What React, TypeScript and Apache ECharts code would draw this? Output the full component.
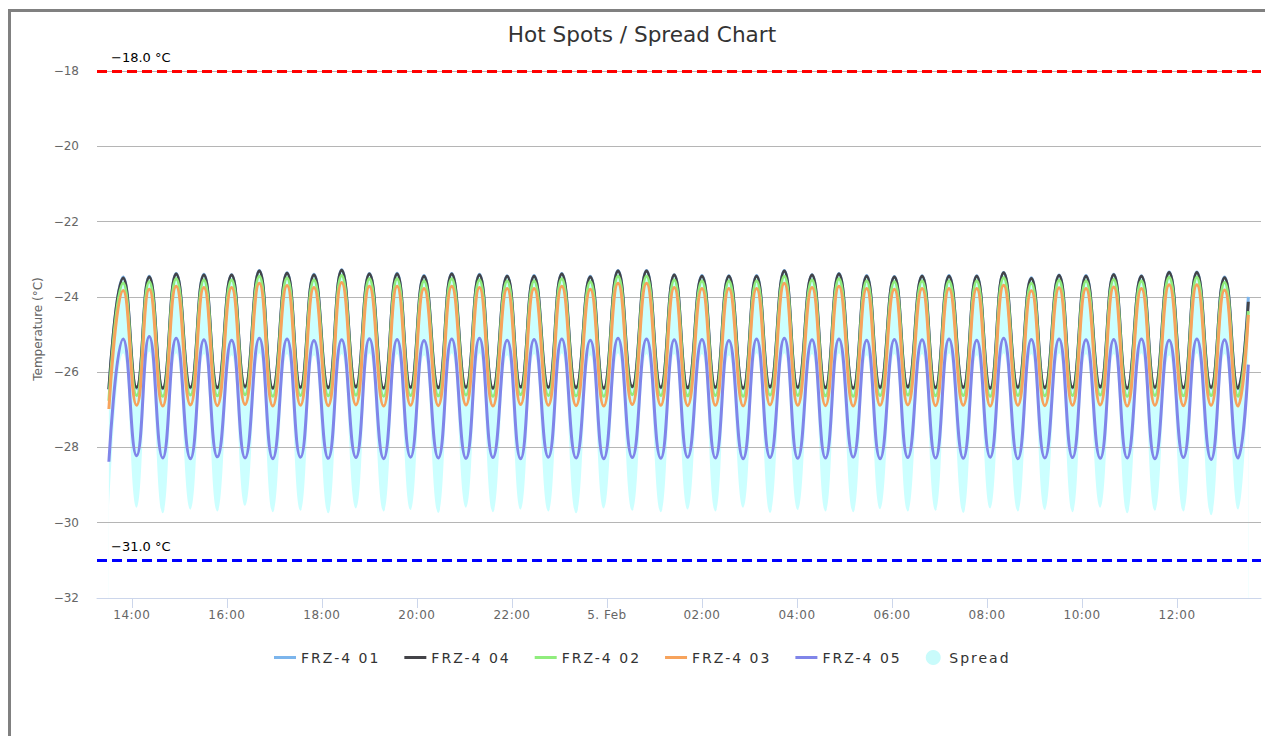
import React, { useEffect, useRef } from "react";
import * as echarts from "echarts";

const TITLE = "Hot Spots / Spread Chart";
const Y_TITLE = "Temperature (°C)";
const DAY1 = "2024-02-04";
const DAY2 = "2024-02-05";
const MONTHS = ["Jan", "Feb", "Mar", "Apr", "May", "Jun", "Jul", "Aug", "Sep", "Oct", "Nov", "Dec"];

// alternating trough / peak times (day rolls over at midnight)
const TIMES = [
  "13:31", "13:49", "14:06", "14:22", "14:39", "14:56", "15:14", "15:31", "15:48", "16:06",
  "16:23", "16:41", "16:58", "17:16", "17:33", "17:50", "18:08", "18:25", "18:43", "19:00",
  "19:18", "19:35", "19:52", "20:09", "20:27", "20:44", "21:02", "21:19", "21:36", "21:54",
  "22:11", "22:28", "22:46", "23:03", "23:21", "23:39", "23:56", "00:14", "00:32", "00:50",
  "01:08", "01:25", "01:42", "02:00", "02:17", "02:34", "02:52", "03:09", "03:26", "03:44",
  "04:01", "04:19", "04:36", "04:53", "05:11", "05:28", "05:45", "06:03", "06:20", "06:38",
  "06:55", "07:12", "07:30", "07:47", "08:04", "08:21", "08:39", "08:56", "09:13", "09:31",
  "09:48", "10:05", "10:23", "10:40", "10:57", "11:15", "11:32", "11:50", "12:08", "12:25",
  "12:43", "13:00", "13:17", "13:30",
];

const X_MIN = "2024-02-04T13:16";
const X_MAX = "2024-02-05T13:46";
const X_TICKS = [
  "2024-02-04T14:00", "2024-02-04T16:00", "2024-02-04T18:00", "2024-02-04T20:00",
  "2024-02-04T22:00", "2024-02-05T00:00", "2024-02-05T02:00", "2024-02-05T04:00",
  "2024-02-05T06:00", "2024-02-05T08:00", "2024-02-05T10:00", "2024-02-05T12:00",
];
const Y_MIN = -32;
const Y_MAX = -18;
const Y_STEP = 2;
const UPPER_LIMIT = -18.0;
const LOWER_LIMIT = -31.0;

const NAMES = ["FRZ-4 01", "FRZ-4 04", "FRZ-4 02", "FRZ-4 03", "FRZ-4 05"];
const COLORS = ["#7cb5ec", "#434348", "#90ed7d", "#f7a35c", "#8085e9"];
const SPREAD_NAME = "Spread";

// FRZ-4 01
const TROUGHS_01 = [-26.47, -26.43, -26.44, -26.42, -26.43, -26.41, -26.44, -26.42, -26.43, -26.41, -26.44, -26.42, -26.43, -26.42, -26.44, -26.41, -26.42, -26.43, -26.44, -26.40, -26.42, -26.43, -26.42, -26.44, -26.41, -26.42, -26.43, -26.44, -26.42, -26.41, -26.43, -26.42, -26.44, -26.42, -26.43, -26.42, -26.41, -26.44, -26.42, -26.43, -26.42, -26.44];
const PEAKS_01 = [-23.47, -23.45, -23.38, -23.40, -23.41, -23.30, -23.36, -23.40, -23.28, -23.38, -23.37, -23.43, -23.38, -23.40, -23.44, -23.43, -23.38, -23.45, -23.30, -23.30, -23.41, -23.43, -23.44, -23.43, -23.30, -23.41, -23.38, -23.43, -23.46, -23.44, -23.43, -23.44, -23.35, -23.49, -23.42, -23.43, -23.40, -23.44, -23.34, -23.34, -23.47];
const END_01 = -24.0;
// FRZ-4 04
const TROUGHS_04 = [-26.45, -26.40, -26.42, -26.40, -26.41, -26.38, -26.42, -26.40, -26.41, -26.39, -26.42, -26.40, -26.41, -26.40, -26.42, -26.39, -26.40, -26.41, -26.42, -26.38, -26.40, -26.41, -26.40, -26.42, -26.39, -26.40, -26.41, -26.42, -26.40, -26.39, -26.41, -26.40, -26.42, -26.40, -26.41, -26.40, -26.39, -26.42, -26.40, -26.41, -26.40, -26.42];
const PEAKS_04 = [-23.50, -23.47, -23.39, -23.42, -23.42, -23.31, -23.37, -23.42, -23.29, -23.39, -23.39, -23.45, -23.39, -23.42, -23.45, -23.45, -23.39, -23.47, -23.31, -23.31, -23.42, -23.45, -23.45, -23.45, -23.31, -23.42, -23.39, -23.45, -23.47, -23.45, -23.45, -23.45, -23.36, -23.51, -23.43, -23.45, -23.41, -23.45, -23.35, -23.35, -23.49];
const END_04 = -24.13;
// FRZ-4 02
const TROUGHS_02 = [-26.76, -26.62, -26.64, -26.61, -26.63, -26.60, -26.64, -26.62, -26.63, -26.61, -26.64, -26.62, -26.63, -26.61, -26.64, -26.60, -26.62, -26.63, -26.64, -26.60, -26.62, -26.63, -26.62, -26.64, -26.61, -26.62, -26.63, -26.64, -26.62, -26.61, -26.63, -26.62, -26.64, -26.62, -26.63, -26.62, -26.61, -26.64, -26.62, -26.63, -26.62, -26.64];
const PEAKS_02 = [-23.63, -23.60, -23.52, -23.55, -23.55, -23.45, -23.50, -23.55, -23.43, -23.52, -23.52, -23.58, -23.52, -23.55, -23.58, -23.58, -23.52, -23.60, -23.45, -23.45, -23.55, -23.58, -23.58, -23.58, -23.45, -23.55, -23.52, -23.58, -23.60, -23.58, -23.58, -23.58, -23.49, -23.64, -23.56, -23.58, -23.54, -23.58, -23.48, -23.48, -23.62];
const END_02 = -24.38;
// FRZ-4 03
const TROUGHS_03 = [-26.98, -26.88, -26.90, -26.87, -26.89, -26.86, -26.90, -26.88, -26.89, -26.87, -26.90, -26.88, -26.89, -26.87, -26.90, -26.86, -26.88, -26.89, -26.90, -26.86, -26.88, -26.89, -26.88, -26.90, -26.87, -26.88, -26.89, -26.90, -26.88, -26.87, -26.89, -26.88, -26.90, -26.88, -26.89, -26.88, -26.87, -26.90, -26.88, -26.89, -26.88, -26.90];
const PEAKS_03 = [-23.83, -23.80, -23.72, -23.75, -23.75, -23.64, -23.70, -23.75, -23.62, -23.72, -23.72, -23.78, -23.72, -23.75, -23.78, -23.78, -23.72, -23.80, -23.64, -23.64, -23.75, -23.78, -23.78, -23.78, -23.64, -23.75, -23.72, -23.78, -23.80, -23.78, -23.78, -23.78, -23.69, -23.84, -23.76, -23.78, -23.74, -23.78, -23.68, -23.68, -23.82];
const END_03 = -24.48;
// FRZ-4 05
const TROUGHS_05 = [-28.38, -28.22, -28.28, -28.30, -28.25, -28.28, -28.30, -28.26, -28.29, -28.27, -28.30, -28.26, -28.28, -28.29, -28.27, -28.30, -28.26, -28.28, -28.30, -28.27, -28.29, -28.26, -28.28, -28.30, -28.27, -28.29, -28.28, -28.26, -28.30, -28.27, -28.28, -28.29, -28.26, -28.30, -28.28, -28.27, -28.29, -28.28, -28.30, -28.27, -28.32, -28.28];
const PEAKS_05 = [-25.12, -25.05, -25.10, -25.14, -25.15, -25.10, -25.12, -25.16, -25.14, -25.11, -25.13, -25.16, -25.12, -25.10, -25.15, -25.13, -25.12, -25.15, -25.10, -25.12, -25.14, -25.13, -25.16, -25.12, -25.10, -25.14, -25.12, -25.15, -25.13, -25.14, -25.12, -25.15, -25.10, -25.13, -25.12, -25.14, -25.13, -25.12, -25.15, -25.12, -25.14];
const END_05 = -25.8;
// Spread lower edge
const LOW_TROUGHS = [-29.75, -29.60, -29.75, -29.65, -29.70, -29.55, -29.72, -29.68, -29.75, -29.62, -29.70, -29.66, -29.74, -29.60, -29.72, -29.65, -29.70, -29.75, -29.62, -29.68, -29.72, -29.65, -29.70, -29.60, -29.74, -29.66, -29.70, -29.72, -29.64, -29.70, -29.68, -29.74, -29.62, -29.70, -29.66, -29.72, -29.60, -29.75, -29.68, -29.70, -29.80, -29.65];
const LOW_PEAKS = [-25.50, -25.45, -25.50, -25.52, -25.55, -25.50, -25.52, -25.55, -25.52, -25.50, -25.52, -25.55, -25.50, -25.50, -25.55, -25.52, -25.50, -25.55, -25.50, -25.52, -25.52, -25.52, -25.55, -25.50, -25.50, -25.52, -25.50, -25.55, -25.52, -25.52, -25.50, -25.55, -25.50, -25.52, -25.50, -25.52, -25.52, -25.50, -25.55, -25.50, -25.52];
const LOW_END = -25.95;

const SENSORS = [
  [TROUGHS_01, PEAKS_01, END_01],
  [TROUGHS_04, PEAKS_04, END_04],
  [TROUGHS_02, PEAKS_02, END_02],
  [TROUGHS_03, PEAKS_03, END_03],
  [TROUGHS_05, PEAKS_05, END_05],
] as const;

function buildTimes(): number[] {
  const out: number[] = [];
  let day = DAY1;
  let prevH = -1;
  for (const t of TIMES) {
    const h = parseInt(t.slice(0, 2), 10);
    if (h < prevH) day = DAY2;
    prevH = h;
    out.push(new Date(`${day}T${t}`).getTime());
  }
  return out;
}

function weave(troughs: readonly number[], peaks: readonly number[], end: number): number[] {
  const v: number[] = [];
  for (let i = 0; i < troughs.length; i++) {
    v.push(troughs[i]);
    if (i < peaks.length) v.push(peaks[i]);
  }
  v.push(end);
  return v;
}

const minus = (v: number, digits = 0) =>
  (v < 0 ? "\u2212" : "") + Math.abs(v).toFixed(digits);

const pad = (n: number) => (n < 10 ? "0" + n : "" + n);

function xLabel(v: number) {
  const d = new Date(v);
  if (d.getHours() === 0 && d.getMinutes() === 0) return `${d.getDate()}. ${MONTHS[d.getMonth()]}`;
  return `${pad(d.getHours())}:${pad(d.getMinutes())}`;
}

const FONT = "DejaVu Sans";
const LINE_ICON = "path://M0,0H22V3H0Z";
const SMOOTH = 0.5;

export default function App() {
  const ref = useRef<HTMLDivElement>(null);

  useEffect(() => {
    document.documentElement.style.overflow = "hidden";
    if (!ref.current) return;
    const chart = echarts.init(ref.current, undefined, { renderer: "svg" });

    const times = buildTimes();
    const sensorValues = SENSORS.map(([tr, pk, end]) => weave(tr, pk, end));
    const lower = weave(LOW_TROUGHS, LOW_PEAKS, LOW_END);
    const upper = times.map((_, i) => Math.max(...sensorValues.map((s) => s[i])));
    const tickValues = X_TICKS.map((t) => new Date(t).getTime());

    const lineSeries = NAMES.map((name, k) => ({
      name,
      type: "line",
      data: times.map((t, i) => [t, sensorValues[k][i]]),
      smooth: SMOOTH,
      showSymbol: false,
      symbol: "none",
      z: 5,
      lineStyle: { color: COLORS[k], width: 3 },
      itemStyle: { color: COLORS[k] },
      ...(k === 0
        ? {
            markLine: {
              silent: true,
              symbol: ["none", "none"],
              data: [
                {
                  yAxis: UPPER_LIMIT,
                  lineStyle: { color: "#ff0000", width: 3, type: [10, 5] },
                  label: { formatter: `${minus(UPPER_LIMIT, 1)} °C` },
                },
                {
                  yAxis: LOWER_LIMIT,
                  lineStyle: { color: "#0000ff", width: 3, type: [10, 5] },
                  label: { formatter: `${minus(LOWER_LIMIT, 1)} °C` },
                },
              ],
              label: {
                position: "insideStartTop",
                distance: [14, 7],
                color: "#000",
                fontFamily: FONT,
                fontSize: 13,
              },
            },
          }
        : {}),
    }));

    const spaceText = () => {
      const root = ref.current;
      if (!root) return;
      root.querySelectorAll("text").forEach((el) => {
        const t = el.textContent || "";
        if (NAMES.includes(t) || t === SPREAD_NAME) el.setAttribute("letter-spacing", "2");
        else if (/^\d\d:\d\d$/.test(t) || /\. /.test(t)) el.setAttribute("letter-spacing", "0.5");
      });
    };
    chart.on("finished", spaceText);

    chart.setOption({
      animation: false,
      textStyle: { fontFamily: FONT },
      title: {
        text: TITLE,
        left: "center",
        top: 11,
        padding: 0,
        textStyle: { fontFamily: FONT, fontSize: 21.6, fontWeight: "normal", color: "#333" },
      },
      grid: { left: 86, top: 59, width: 1164, height: 527 },
      legend: {
        left: 263,
        top: 638,
        padding: 0,
        itemWidth: 22,
        itemHeight: 15,
        itemGap: 40,
        textStyle: { fontFamily: FONT, fontSize: 14, color: "#333" },
        data: [
          ...NAMES.map((name) => ({ name, icon: LINE_ICON })),
          { name: SPREAD_NAME, icon: "circle", itemStyle: { color: "#c9fbfb" } },
        ],
      },
      xAxis: {
        type: "value",
        min: new Date(X_MIN).getTime(),
        max: new Date(X_MAX).getTime(),
        z: 6,
        axisLine: { show: true, lineStyle: { color: "#ccd6eb", width: 1 } },
        axisTick: { show: true, length: 10, lineStyle: { color: "#ccd6eb" }, customValues: tickValues },
        axisLabel: {
          customValues: tickValues,
          formatter: (v: number) => xLabel(v),
          color: "#666",
          fontSize: 12,
          margin: 11,
          fontFamily: FONT,
        },
        splitLine: { show: false },
      },
      yAxis: {
        type: "value",
        min: Y_MIN,
        max: Y_MAX,
        interval: Y_STEP,
        z: 3,
        axisLine: { show: false },
        axisTick: { show: false },
        axisLabel: {
          formatter: (v: number) => minus(v),
          color: "#666",
          fontSize: 12,
          margin: 18,
          fontFamily: FONT,
        },
        splitLine: { lineStyle: { color: "#b5b5b5", width: 1 } },
      },
      graphic: [
        {
          type: "text",
          x: 27,
          y: 317,
          rotation: Math.PI / 2,
          style: {
            text: Y_TITLE,
            fill: "#666",
            fontSize: 12,
            fontFamily: FONT,
            align: "center",
            verticalAlign: "middle",
          },
        },
      ],
      series: [
        {
          name: SPREAD_NAME,
          type: "line",
          data: times.map((t, i) => [t, upper[i]]),
          smooth: SMOOTH,
          showSymbol: false,
          symbol: "none",
          silent: true,
          z: 1,
          lineStyle: { opacity: 0 },
          itemStyle: { color: "#c9fbfb" },
          areaStyle: { color: "rgba(0,255,255,0.2)", opacity: 1, origin: "start" },
        },
        {
          name: "spread-lower",
          type: "line",
          data: times.map((t, i) => [t, lower[i]]),
          smooth: SMOOTH,
          showSymbol: false,
          symbol: "none",
          silent: true,
          z: 2,
          lineStyle: { opacity: 0 },
          areaStyle: { color: "#ffffff", opacity: 1, origin: "start" },
        },
        ...lineSeries,
      ],
    });
    spaceText();

    return () => chart.dispose();
  }, []);

  return (
    <div
      style={{
        position: "relative",
        top: 1,
        width: 1262,
        height: 725,
        borderLeft: "3px solid #808080",
        borderTop: "3px solid #808080",
        background: "#fff",
      }}
    >
      <div ref={ref} style={{ width: 1262, height: 700 }} />
      <div
        style={{
          position: "absolute",
          left: 1260,
          top: 681,
          width: 1,
          height: 60,
          background: "#666",
        }}
      />
    </div>
  );
}
